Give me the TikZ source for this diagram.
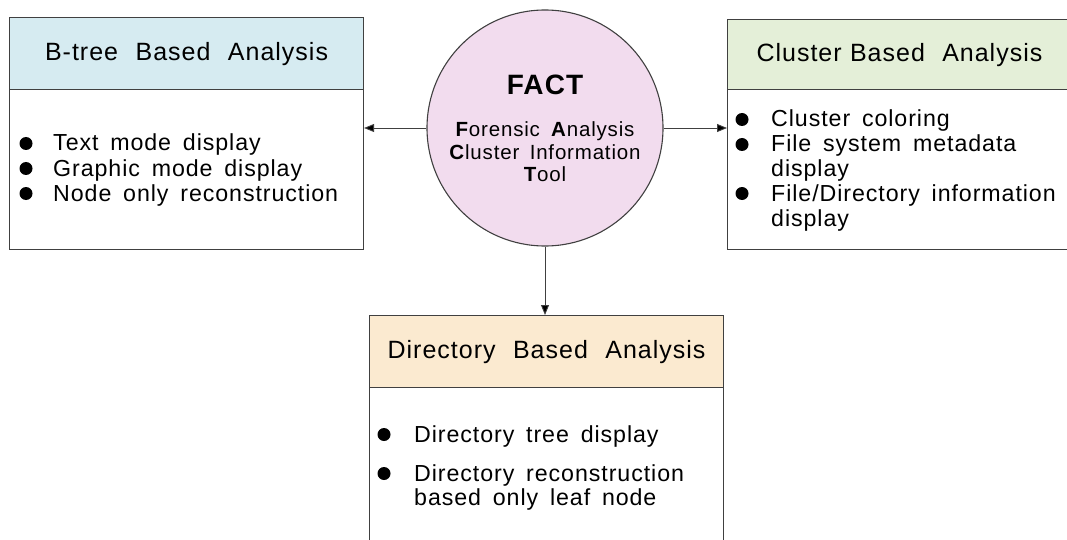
\documentclass[tikz,border=0pt]{standalone}
\usepackage{fontspec}
\setmainfont{Liberation Sans}[LetterSpace=4,WordSpace=1.6]
\newfontfamily\hdrfont{Liberation Sans}[LetterSpace=4,WordSpace=2.2]
\usetikzlibrary{arrows.meta}
\definecolor{hdrblue}{HTML}{D6EBF1}
\definecolor{hdrgreen}{HTML}{E4EFD8}
\definecolor{hdrtan}{HTML}{FBEAD0}
\definecolor{circpink}{HTML}{F2DCEE}
\definecolor{edge}{HTML}{404040}
\tikzset{
  hdr/.style={draw=edge, line width=1.1pt, anchor=north west, inner sep=0pt, font=\hdrfont\fontsize{25}{27}\selectfont},
  bodybox/.style={draw=edge, line width=1.1pt, fill=white, anchor=north west, inner sep=0pt},
  itemtxt/.style={anchor=base west, inner sep=0pt, font=\fontsize{23.2}{25}\selectfont},
  conn/.style={draw=edge, line width=0.9pt, -{Triangle[length=10pt,width=8pt,fill=black]}},
  bulletdot/.style={fill=black},
}
\begin{document}
\begin{tikzpicture}[x=1pt,y=-1pt]
\clip (0,0) rectangle (1067,540);
% left box
\node[hdr, fill=hdrblue, minimum width=354pt, minimum height=72pt] (lh) at (9,17) {\raisebox{-4pt}{B-tree Based Analysis}};
\node[bodybox, minimum width=354pt, minimum height=160pt] (lb) at (9,89) {};
\node[itemtxt] (l1) at (53,151) {Text mode display};
\node[itemtxt] (l2) at (53,176) {Graphic mode display};
\node[itemtxt] (l3) at (53,201) {Node only reconstruction};
\foreach \n in {l1,l2,l3} \fill[bulletdot] (\n.base west) ++(-27,-7.5) circle (6.5pt);
% right box
\node[hdr, fill=hdrgreen, minimum width=350pt, minimum height=70pt, text width=350pt, align=left] (rh) at (727,19) {\hspace{29pt}\raisebox{-4pt}{Cluster Based\hspace{9pt} Analysis}};
\node[bodybox, minimum width=350pt, minimum height=160pt] (rb) at (727,89) {};
\node[itemtxt] (r1) at (771,127) {Cluster coloring};
\node[itemtxt] (r2) at (771,152) {File system metadata};
\node[itemtxt] (r3) at (771,177) {display};
\node[itemtxt] (r4) at (771,201) {File/Directory information};
\node[itemtxt] (r5) at (771,226) {display};
\foreach \n in {r1,r2,r4} \fill[bulletdot] (\n.base west) ++(-29,-7.5) circle (6.5pt);
% bottom box
\node[hdr, fill=hdrtan, minimum width=354pt, minimum height=72pt] (bh) at (369,315) {\raisebox{-4pt}{Directory Based Analysis}};
\node[bodybox, minimum width=354pt, minimum height=170pt] (bb) at (369,387) {};
\node[itemtxt] (b1) at (414,442) {Directory tree display};
\node[itemtxt] (b2) at (414,481) {Directory reconstruction};
\node[itemtxt] (b3) at (414,505) {based only leaf node};
\foreach \n in {b1,b2} \fill[bulletdot] (\n.base west) ++(-30,-7.5) circle (6.5pt);
% circle
\node[circle, draw=edge, line width=1.1pt, fill=circpink, minimum size=236pt, inner sep=0pt] (fact) at (545,128) {};
\node[font=\bfseries\fontsize{28}{30}\selectfont, inner sep=0pt] (ft) at (545,85) {FACT};
\node[align=center, inner sep=0pt, font=\fontsize{20.5}{22.5}\selectfont] (fs) at (545,152) {\textbf{F}orensic \textbf{A}nalysis\\\textbf{C}luster Information\\\textbf{T}ool};
% connectors
\draw[conn] (fact.west) -- (lb.east |- fact.west);
\draw[conn] (fact.east) -- (rb.west |- fact.east);
\draw[conn] (fact.south) -- (bh.north -| fact.south);
\end{tikzpicture}
\end{document}
